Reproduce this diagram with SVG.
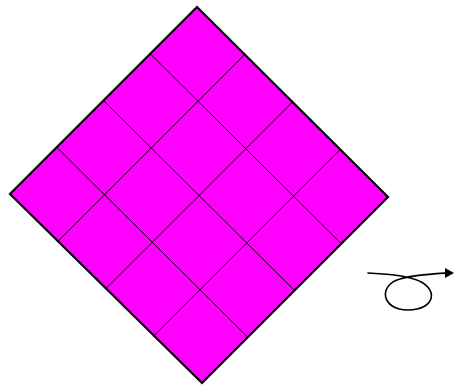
<svg xmlns="http://www.w3.org/2000/svg" width="454" height="385" viewBox="0 0 454 385">
  <style>
    .outer { fill: #ff00ff; stroke: #000; stroke-width: 2.2; stroke-linejoin: miter; }
    .grid { stroke: #000; stroke-width: 1; fill: none; }
    .sym { stroke: #000; stroke-width: 1.6; fill: none; stroke-linecap: round; }
  </style>
  <rect width="454" height="385" fill="#fff"/>
  <g id="diamond">
    <polygon class="outer" points="197,7 388,197 202,383 10,194"/>
    <g id="grid-lines">
      <line class="grid" x1="244.75" y1="54.5" x2="57.75" y2="241.5"/>
      <line class="grid" x1="292.5" y1="102" x2="105.5" y2="289"/>
      <line class="grid" x1="340.25" y1="149.5" x2="153.25" y2="336.5"/>
      <line class="grid" x1="150.25" y1="53.75" x2="341.25" y2="243.75"/>
      <line class="grid" x1="103.5" y1="100.5" x2="294.5" y2="290.5"/>
      <line class="grid" x1="56.75" y1="147.25" x2="247.75" y2="337.25"/>
    </g>
  </g>
  <g id="loop-arrow">
    <path class="sym" d="M368,273 C390,274 405,276 414,279 C440,287 436,310 408,310 C381,310 378,285 400,279 C412,275 430,274 446,273"/>
    <polygon points="445,268 454,273 445,278" fill="#000"/>
  </g>
</svg>
